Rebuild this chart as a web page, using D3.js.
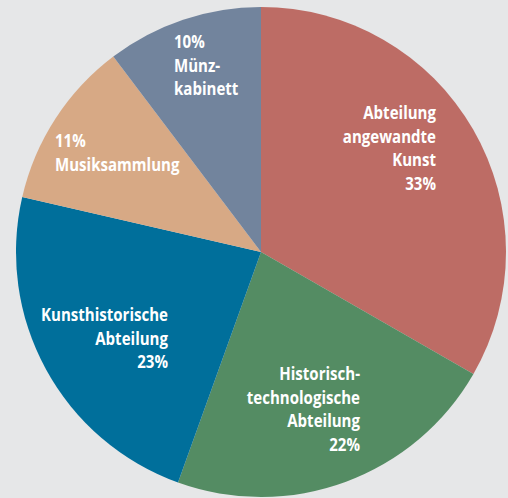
<!DOCTYPE html>
<html>
<head>
<meta charset="utf-8">
<script src="https://cdn.jsdelivr.net/npm/d3@7"></script>
<style>
  html, body { margin: 0; padding: 0; background: #e6e7e8; }
  svg { display: block; }
</style>
</head>
<body>
<svg id="chart" width="508" height="498"></svg>
<script>
// Data
const categories = [
  "Abteilung angewandte Kunst",
  "Historisch-technologische Abteilung",
  "Kunsthistorische Abteilung",
  "Musiksammlung",
  "Münzkabinett"
];
const values = [33.3, 22.2, 23.1, 11.1, 10.3];
const labelLines = [
  ["Abteilung", "angewandte", "Kunst", "33%"],
  ["Historisch-", "technologische", "Abteilung", "22%"],
  ["Kunsthistorische", "Abteilung", "23%"],
  ["11%", "Musiksammlung"],
  ["10%", "Münz-", "kabinett"]
];
const colors = ["#bd6c65", "#548c63", "#006f9b", "#d7a985", "#72849d"];

// Layout (label placement relative to pie centre)
const W = 508, H = 498;
const cx = 261, cy = 252, R = 245;
const labelLayout = [
  { anchor: "end",   dx: 175,  dy: -133 },
  { anchor: "end",   dx: 99,   dy: 128 },
  { anchor: "end",   dx: -93,  dy: 69 },
  { anchor: "start", dx: -206, dy: -105 },
  { anchor: "start", dx: -87,  dy: -204 }
];
const lineH = 23.6;
const condense = 0.86;

const svg = d3.select("#chart");
svg.append("rect").attr("width", W).attr("height", H).attr("fill", "#e6e7e8");

const pie = d3.pie().sort(null).value(d => d)(values);
const arc = d3.arc().innerRadius(0).outerRadius(R);

const g = svg.append("g").attr("transform", `translate(${cx},${cy})`);
g.selectAll("path.slice")
  .data(pie)
  .join("path")
  .attr("class", "slice")
  .attr("d", arc)
  .attr("fill", (d, i) => colors[i]);

const labels = g.selectAll("text.lbl")
  .data(pie)
  .join("text")
  .attr("class", "lbl")
  .attr("transform", (d, i) => `translate(${labelLayout[i].dx},${labelLayout[i].dy}) scale(${condense},1)`)
  .attr("text-anchor", (d, i) => labelLayout[i].anchor)
  .attr("fill", "#ffffff")
  .attr("font-family", "'Open Sans', 'Liberation Sans', sans-serif")
  .attr("font-weight", "bold")
  .attr("font-size", 17.5);

labels.each(function(d, i) {
  const t = d3.select(this);
  labelLines[i].forEach((line, j) => {
    t.append("tspan")
      .attr("x", 0)
      .attr("y", j * lineH)
      .text(line);
  });
});
</script>
</body>
</html>
